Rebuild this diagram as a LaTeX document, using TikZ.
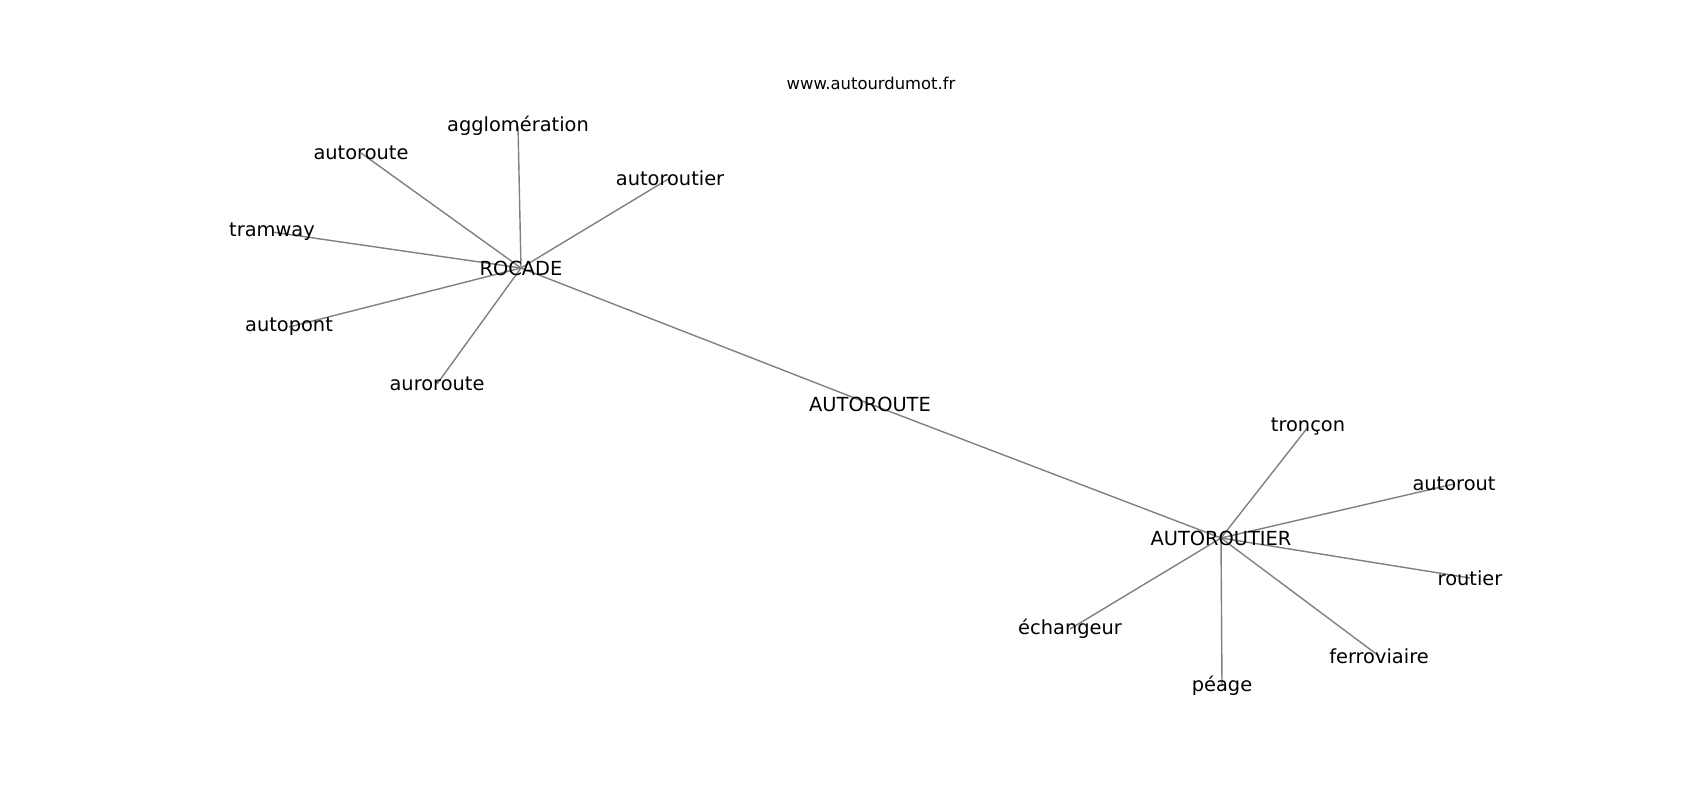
\documentclass[tikz,border=0pt]{standalone}
\usepackage{fontspec}
\setmainfont{DejaVu Sans}
\usetikzlibrary{positioning,backgrounds}

\begin{document}
\begin{tikzpicture}[
    x=1pt, y=-1pt,
    word/.style={inner sep=0pt, font=\fontsize{19.4}{23}\selectfont},
    link/.style={draw=black!50, line width=1.4pt}
]
\useasboundingbox (0,0) rectangle (1700,800);

% Title
\node[font=\fontsize{16.4}{20}\selectfont] (site) at (871, 83) {www.autourdumot.fr};

% Centre
\node[word] (autoroute) at (870, 404) {AUTOROUTE};

% Left cluster
\node[word] (rocade) at (521, 268) {ROCADE};
\node[word] (agglo) at (518, 126) {agglomération};
\node[word] (autorouteL) at (361, 153) {autoroute};
\node[word] (autoroutierL) at (670, 178) {autoroutier};
\node[word] (tramway) at (272, 232) {tramway};
\node[word] (autopont) at (289, 327) {autopont};
\node[word] (auroroute) at (437, 384) {auroroute};

% Right cluster
\node[word] (autoroutier) at (1221, 538) {AUTOROUTIER};
\node[word] (troncon) at (1308, 427) {tronçon};
\node[word] (autorout) at (1454, 484) {autorout};
\node[word] (routier) at (1470, 578) {routier};
\node[word] (ferro) at (1379, 656) {ferroviaire};
\node[word] (peage) at (1222, 686) {péage};
\node[word] (echangeur) at (1070, 629) {échangeur};

% Edges behind the words
\begin{scope}[on background layer]
\draw[link] (rocade.center) -- (autoroute.center);
\draw[link] (autoroute.center) -- (autoroutier.center);
\draw[link] (rocade.center) -- (agglo.center);
\draw[link] (rocade.center) -- (autorouteL.center);
\draw[link] (rocade.center) -- (autoroutierL.center);
\draw[link] (rocade.center) -- (tramway.center);
\draw[link] (rocade.center) -- (autopont.center);
\draw[link] (rocade.center) -- (auroroute.center);
\draw[link] (autoroutier.center) -- (troncon.center);
\draw[link] (autoroutier.center) -- (autorout.center);
\draw[link] (autoroutier.center) -- (routier.center);
\draw[link] (autoroutier.center) -- (ferro.center);
\draw[link] (autoroutier.center) -- (peage.center);
\draw[link] (autoroutier.center) -- (echangeur.center);
\end{scope}

\end{tikzpicture}
\end{document}
